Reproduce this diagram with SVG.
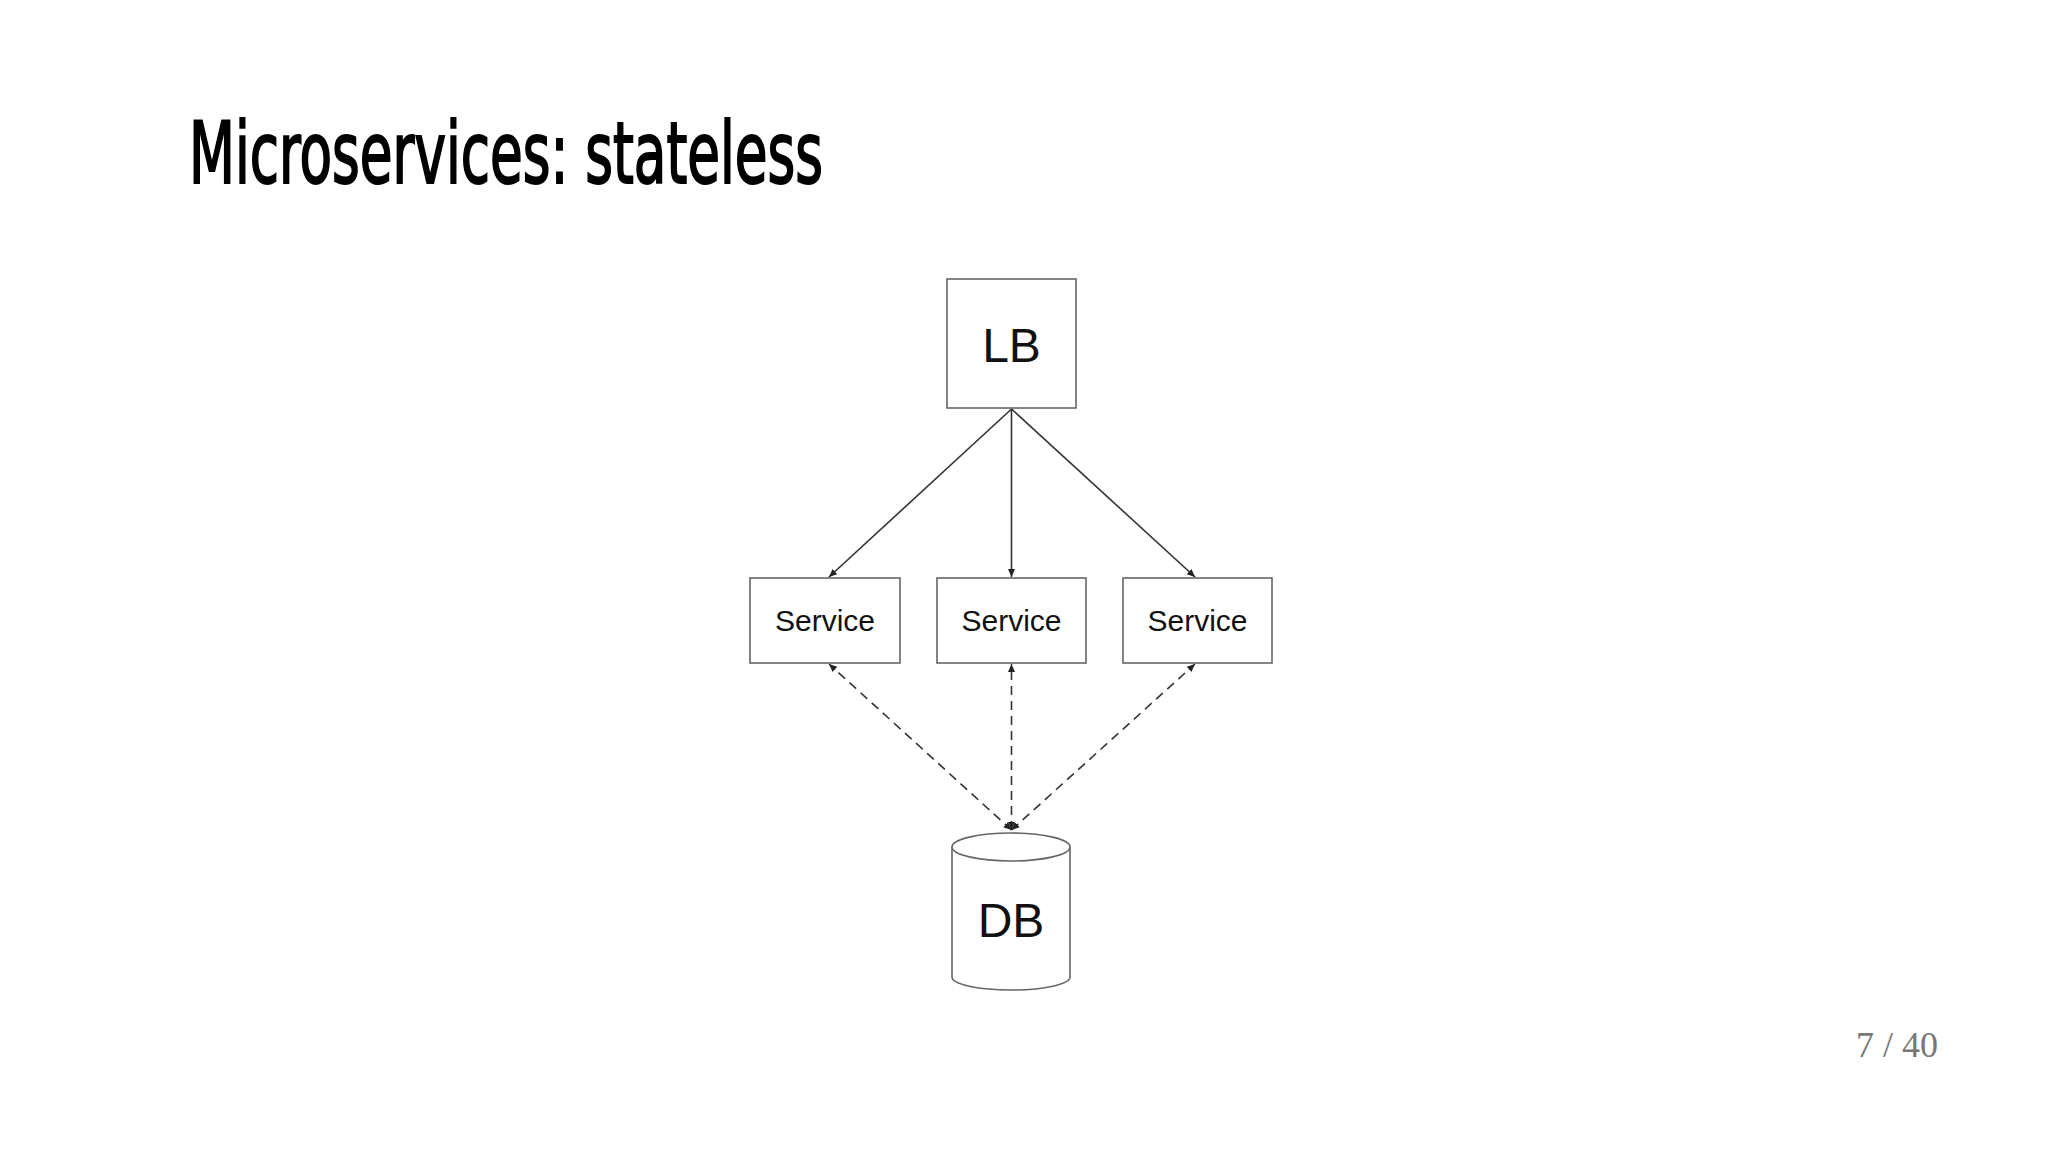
<svg xmlns="http://www.w3.org/2000/svg" width="2048" height="1161" viewBox="0 0 2048 1161">
<defs>
<style>
.box{fill:#fff;stroke:#666;stroke-width:1.6}
.lbl{font-family:"Liberation Sans",Arial,sans-serif;fill:#111;text-anchor:middle}
.solid{stroke:#333;stroke-width:1.6;fill:none}
.dash{stroke:#333;stroke-width:1.6;fill:none;stroke-dasharray:9 6}
</style>
<marker id="ah" markerWidth="10" markerHeight="10" refX="8" refY="5" orient="auto-start-reverse" markerUnits="userSpaceOnUse">
<path d="M0,1.5 L8,5 L0,8.5 Z" fill="#222"/>
</marker>
</defs>
<rect width="2048" height="1161" fill="#fff"/>
<text x="189" y="183" font-family="'DejaVu Sans Condensed','Liberation Sans Narrow','Liberation Sans',sans-serif" font-size="86" fill="#000" stroke="#000" stroke-width="2" textLength="634" lengthAdjust="spacingAndGlyphs">Microservices: stateless</text>
<g id="connectors">
<line class="solid" x1="1011.5" y1="409" x2="829" y2="577" marker-end="url(#ah)"/>
<line class="solid" x1="1011.5" y1="409" x2="1011.5" y2="577" marker-end="url(#ah)"/>
<line class="solid" x1="1011.5" y1="409" x2="1195" y2="577" marker-end="url(#ah)"/>
<line class="dash" x1="1011.5" y1="830" x2="829" y2="664" marker-start="url(#ah)" marker-end="url(#ah)"/>
<line class="dash" x1="1011.5" y1="830" x2="1011.5" y2="664" marker-start="url(#ah)" marker-end="url(#ah)"/>
<line class="dash" x1="1011.5" y1="830" x2="1195" y2="664" marker-start="url(#ah)" marker-end="url(#ah)"/>
</g>
<g id="lb">
<rect class="box" x="947" y="279" width="129" height="129"/>
<text class="lbl" x="1011.5" y="362" font-size="48">LB</text>
</g>
<g id="service1">
<rect class="box" x="750" y="578" width="150" height="85"/>
<text class="lbl" x="825" y="631" font-size="30">Service</text>
</g>
<g id="service2">
<rect class="box" x="937" y="578" width="149" height="85"/>
<text class="lbl" x="1011.5" y="631" font-size="30">Service</text>
</g>
<g id="service3">
<rect class="box" x="1123" y="578" width="149" height="85"/>
<text class="lbl" x="1197.5" y="631" font-size="30">Service</text>
</g>
<g id="db">
<path class="box" d="M952,847 L952,977 A59,13 0 0 0 1070,977 L1070,847"/>
<ellipse class="box" cx="1011" cy="847" rx="59" ry="14"/>
<text class="lbl" x="1011" y="937" font-size="48">DB</text>
</g>
<text x="1938" y="1057" font-family="'Liberation Serif',serif" font-size="36" fill="#777" text-anchor="end">7 / 40</text>
</svg>
